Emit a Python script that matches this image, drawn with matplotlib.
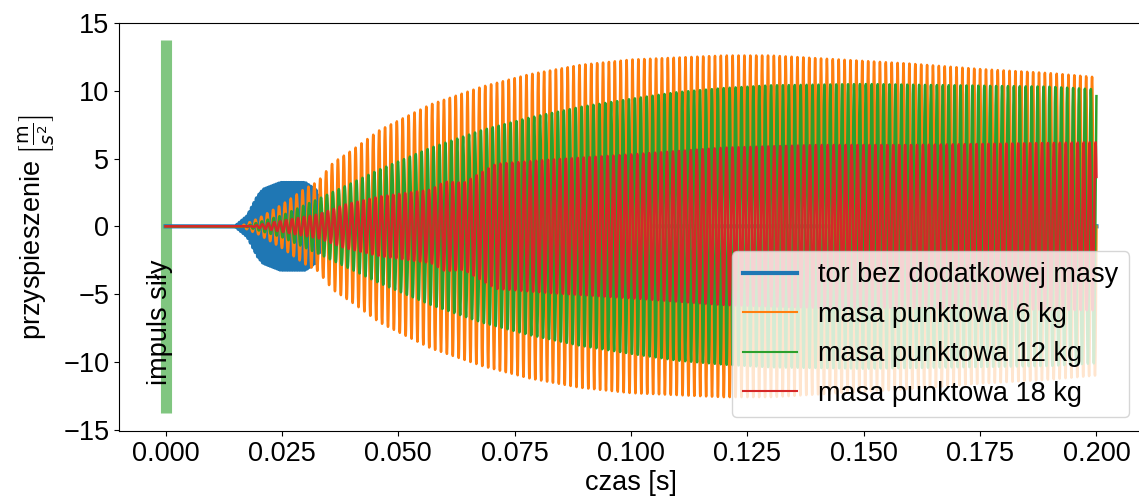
import numpy as np
import matplotlib
matplotlib.use('Agg')
import matplotlib.pyplot as plt

plt.rcParams['font.family'] = ['Liberation Sans', 'DejaVu Sans']
plt.rcParams['mathtext.fontset'] = 'dejavusans'

# envelope points: time [s] -> amplitude [m/s^2]
t_blue = [0.0, 0.015, 0.0176, 0.0198, 0.021, 0.0247, 0.030, 0.0325, 0.0345, 0.2]
a_blue = [0.0, 0.0, 0.75, 2.2, 2.7, 3.2, 3.2, 2.6, 0.0, 0.0]

t_6kg = [0.0, 0.016, 0.02, 0.025, 0.03, 0.0327, 0.036, 0.04, 0.046, 0.05,
         0.057, 0.068, 0.078, 0.089, 0.1, 0.11, 0.12, 0.13, 0.14, 0.15,
         0.16, 0.175, 0.19, 0.2]
a_6kg = [0.0, 0.0, 0.6, 1.6, 2.8, 3.3, 4.7, 5.6, 7.1, 7.8,
         9.0, 10.3, 11.2, 11.9, 12.3, 12.45, 12.6, 12.6, 12.4, 12.2,
         12.0, 11.6, 11.3, 11.0]

t_12kg = [0.0, 0.017, 0.025, 0.0327, 0.04, 0.046, 0.057, 0.068, 0.078,
          0.089, 0.1, 0.11, 0.12, 0.13, 0.15, 0.17, 0.19, 0.2]
a_12kg = [0.0, 0.0, 0.8, 2.0, 3.2, 4.2, 5.8, 7.1, 8.0,
          8.8, 9.4, 9.9, 10.2, 10.4, 10.5, 10.4, 10.3, 10.1]

t_18kg = [0.0, 0.018, 0.025, 0.033, 0.0385, 0.046, 0.057, 0.06, 0.064,
          0.071, 0.082, 0.1, 0.12, 0.14, 0.16, 0.18, 0.2]
a_18kg = [0.0, 0.0, 0.4, 0.9, 1.6, 2.2, 2.7, 3.3, 3.2,
          4.6, 4.9, 5.3, 5.8, 6.0, 6.0, 6.1, 6.2]

# dominant frequency of each record [Hz]
f_blue = 1900.0
f_6kg = 790.0
f_12kg = 786.0
f_18kg = 782.0

impulse_t = 0.0
impulse_amp = 13.75

labels = ['tor bez dodatkowej masy', 'masa punktowa 6 kg',
          'masa punktowa 12 kg', 'masa punktowa 18 kg']

t = np.linspace(0.0, 0.2, 40001)


def signal(tp, ap, f):
    env = np.interp(t, tp, ap)
    return env * np.sin(2 * np.pi * f * t)


fig = plt.figure(figsize=(11.39, 4.98), dpi=100)
ax = fig.add_axes([0.1045, 0.1345, 0.8990, 0.8193])

fs = 19.5
ax.vlines(impulse_t, -impulse_amp, impulse_amp, color='C2', lw=8, alpha=0.6)
ax.text(-0.0012, -7.1, 'impuls siły', rotation=90, ha='center', va='center',
        fontsize=fs)

ax.plot(t, signal(t_blue, a_blue, f_blue), color='C0', lw=3, label=labels[0])
ax.plot(t, signal(t_6kg, a_6kg, f_6kg), color='C1', lw=1.8, label=labels[1])
ax.plot(t, signal(t_12kg, a_12kg, f_12kg), color='C2', lw=1.8, label=labels[2])
ax.plot(t, signal(t_18kg, a_18kg, f_18kg), color='C3', lw=1.8, label=labels[3])

ax.set_xlim(-0.01, 0.21)
ax.set_ylim(-15.1, 15)
ax.set_xticks(np.arange(0, 0.201, 0.025))
ax.set_yticks(np.arange(-15, 16, 5))
ax.tick_params(labelsize=fs)
ax.set_xlabel('czas [s]', fontsize=fs, labelpad=2)
ax.set_ylabel(r'przyspieszenie $\left[\frac{\mathrm{m}}{s^2}\right]$',
              fontsize=fs)
leg = ax.legend(loc='lower right', fontsize=fs)
for line in leg.get_lines()[1:]:
    line.set_linewidth(1.5)

fig.savefig('out.png', dpi=100)
plt.close()
